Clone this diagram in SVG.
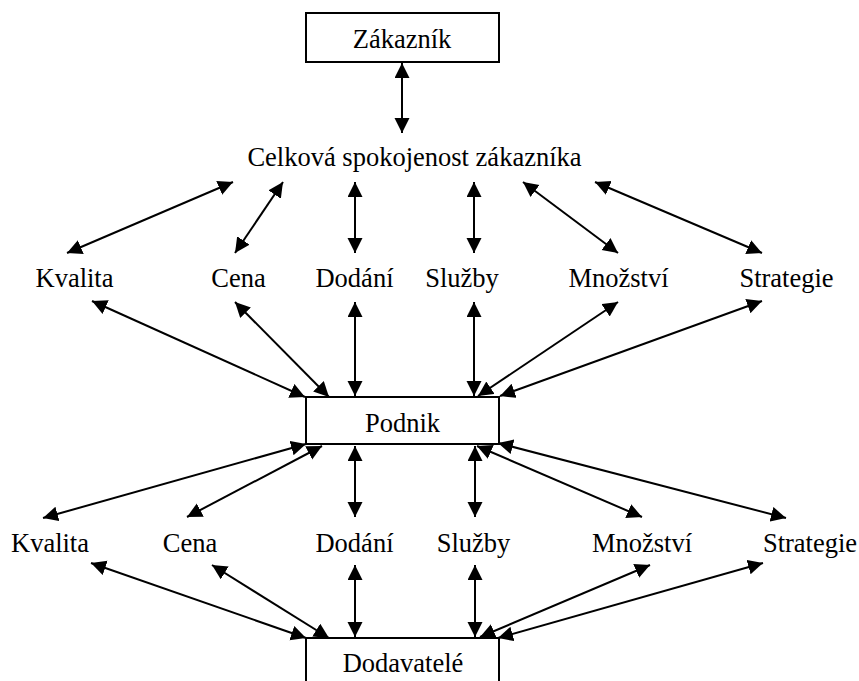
<svg xmlns="http://www.w3.org/2000/svg" width="859" height="681" viewBox="0 0 859 681">
<style>
text{font-family:"Liberation Serif","Times New Roman",serif;font-size:26.5px;fill:#000;text-anchor:middle}
.box{fill:#fff;stroke:#000;stroke-width:2}
.c line{stroke:#000;stroke-width:2;marker-start:url(#ah);marker-end:url(#ah)}
</style>
<defs>
<marker id="ah" markerUnits="userSpaceOnUse" markerWidth="16" markerHeight="16" refX="15" refY="7.5" orient="auto-start-reverse" viewBox="0 0 16 16">
<path d="M0,0 L15,7.5 L0,15 z" fill="#000"/>
</marker>
</defs>
<rect width="859" height="681" fill="#fff"/>
<g class="c" id="connectors">
<line x1="402" y1="63" x2="402" y2="133"/>
<line x1="233" y1="182" x2="67" y2="253"/>
<line x1="283" y1="182" x2="235" y2="253"/>
<line x1="355" y1="182" x2="355" y2="253"/>
<line x1="474" y1="182" x2="474" y2="253"/>
<line x1="523" y1="182" x2="618" y2="253"/>
<line x1="595" y1="182" x2="762" y2="253"/>
<line x1="92" y1="301" x2="305" y2="397"/>
<line x1="235" y1="302" x2="329" y2="397"/>
<line x1="355" y1="302" x2="355" y2="396"/>
<line x1="474" y1="302" x2="474" y2="396"/>
<line x1="618" y1="302" x2="478" y2="396"/>
<line x1="762" y1="301" x2="500" y2="396"/>
<line x1="306" y1="444" x2="43" y2="518"/>
<line x1="322" y1="446" x2="187" y2="517"/>
<line x1="355" y1="446" x2="355" y2="517"/>
<line x1="475" y1="446" x2="475" y2="517"/>
<line x1="477" y1="446" x2="642" y2="517"/>
<line x1="498" y1="443" x2="786" y2="518"/>
<line x1="91" y1="563" x2="306" y2="638"/>
<line x1="212" y1="565" x2="329" y2="638"/>
<line x1="355" y1="565" x2="355" y2="637"/>
<line x1="475" y1="565" x2="475" y2="637"/>
<line x1="650" y1="565" x2="480" y2="637"/>
<line x1="763" y1="563" x2="498" y2="638"/>
</g>
<g id="zakaznik"><rect class="box" x="306" y="13" width="193" height="49"/><text x="402" y="48">Zákazník</text></g>
<g id="celkova"><text x="414.5" y="166">Celková spokojenost zákazníka</text></g>
<g id="kvalita1"><text x="74.5" y="287">Kvalita</text></g>
<g id="cena1"><text x="238.5" y="287">Cena</text></g>
<g id="dodani1"><text x="354.5" y="287">Dodání</text></g>
<g id="sluzby1"><text x="462" y="287">Služby</text></g>
<g id="mnozstvi1"><text x="618.5" y="287">Množství</text></g>
<g id="strategie1"><text x="786.5" y="287">Strategie</text></g>
<g id="podnik"><rect class="box" x="306" y="397" width="193" height="47"/><text x="402.5" y="432">Podnik</text></g>
<g id="kvalita2"><text x="50" y="552">Kvalita</text></g>
<g id="cena2"><text x="190" y="552">Cena</text></g>
<g id="dodani2"><text x="354.5" y="552">Dodání</text></g>
<g id="sluzby2"><text x="473.5" y="552">Služby</text></g>
<g id="mnozstvi2"><text x="642" y="552">Množství</text></g>
<g id="strategie2"><text x="810" y="552">Strategie</text></g>
<g id="dodavatele"><rect class="box" x="306" y="638" width="193" height="60"/><text x="403" y="672">Dodavatelé</text></g>
</svg>
